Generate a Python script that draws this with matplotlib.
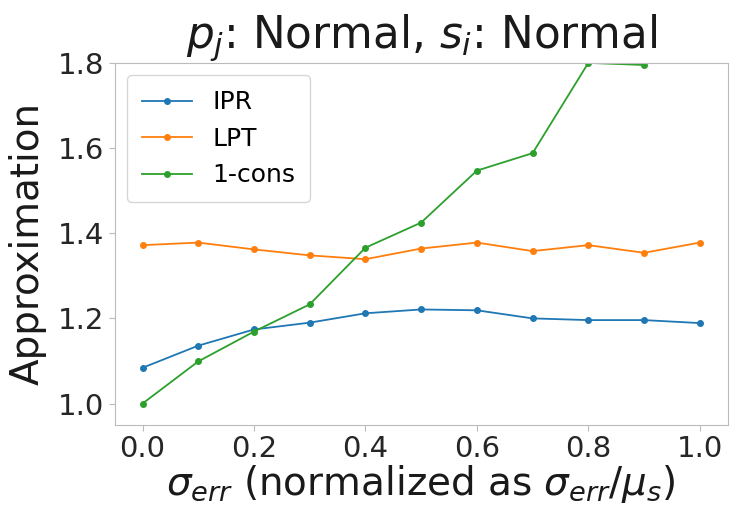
import numpy as np
import matplotlib
matplotlib.use("Agg")
import matplotlib.pyplot as plt

sigma = [0.0, 0.1, 0.2, 0.3, 0.4, 0.5, 0.6, 0.7, 0.8, 0.9, 1.0]
ipr = [1.084, 1.136, 1.174, 1.190, 1.212, 1.221, 1.219, 1.200, 1.196, 1.196, 1.189]
lpt = [1.372, 1.378, 1.362, 1.348, 1.339, 1.364, 1.378, 1.358, 1.372, 1.354, 1.378]
one_cons = [1.000, 1.099, 1.169, 1.233, 1.366, 1.425, 1.547, 1.588, 1.800, 1.795, 2.050]

fig = plt.figure(figsize=(7.35, 5.07), dpi=100)
ax = fig.add_axes([0.156, 0.162, 0.834, 0.714])

ax.plot(sigma, ipr, marker="o", markersize=4, linewidth=1.3, color="#1f77b4", label="IPR")
ax.plot(sigma, lpt, marker="o", markersize=4, linewidth=1.3, color="#ff7f0e", label="LPT")
ax.plot(sigma, one_cons, marker="o", markersize=4, linewidth=1.3, color="#2ca02c", label="1-cons")

ax.set_xlim(-0.05, 1.05)
ax.set_ylim(0.95, 1.8)
ax.set_xticks([0.0, 0.2, 0.4, 0.6, 0.8, 1.0])
ax.set_yticks([1.0, 1.2, 1.4, 1.6, 1.8])

for sp in ax.spines.values():
    sp.set_color("#bbbbbb")
ax.tick_params(labelsize=21, colors="#262626", color="#bbbbbb", length=4)

ax.set_title(r"$p_j$: Normal, $s_i$: Normal", fontsize=31.5, color="#1a1a1a", pad=6)
ax.set_ylabel("Approximation", fontsize=28, color="#1a1a1a", labelpad=8)
ax.set_xlabel(r"$\sigma_{err}$ (normalized as $\sigma_{err}/\mu_s$)", fontsize=28, color="#1a1a1a", labelpad=0)

ax.legend(loc="upper left", fontsize=18, borderpad=0.6, labelspacing=0.5, handlelength=2.0)

fig.savefig("out.png", dpi=100)
